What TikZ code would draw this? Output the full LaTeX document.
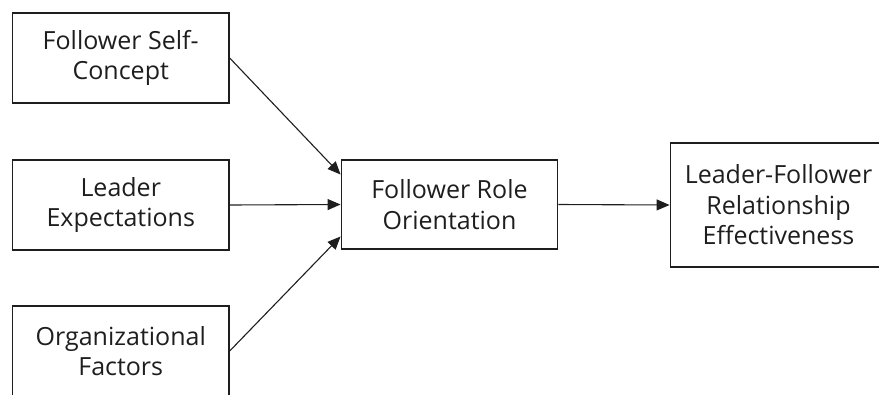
\documentclass[tikz,border=0pt]{standalone}
\usepackage{fontspec}
\setmainfont{Open Sans}
\usetikzlibrary{arrows.meta}
\definecolor{ink}{HTML}{1E1E1E}
\tikzset{
  box/.style={draw=ink, line width=1.4pt, minimum width=216.5pt, inner sep=0pt,
    align=center, font=\fontsize{25}{30.5}\selectfont, text=ink},
  link/.style={draw=ink, line width=1.1pt, -{Triangle[length=13pt,width=11pt]}}
}
\begin{document}
\begin{tikzpicture}[x=1pt, y=-1pt]
  \useasboundingbox (0,0) rectangle (879,394);
  \begin{scope}
    \clip (0,0) rectangle (879,394);
    % antecedents
    \node[box, minimum height=90pt] (self) at (120.75,58) {Follower Self-\\Concept};
    \node[box, minimum height=90pt] (expect) at (120.75,205) {Leader\\Expectations};
    \node[box, minimum height=90pt] (org) at (120.75,351) {Organizational\\Factors};
    % mediator and outcome
    \node[box, minimum height=89pt] (role) at (449.5,204.5) {Follower Role\\Orientation};
    \node[box, minimum height=124pt] (eff) at (778.5,205) {Leader-Follower\\Relationship\\Effectiveness};
    % connectors
    \draw[link] (self.east) -- ([yshift=30pt]role.west);
    \draw[link] (expect.east) -- (role.west);
    \draw[link] (org.east) -- ([yshift=-32pt]role.west);
    \draw[link] (role.east) -- (eff.west);
  \end{scope}
\end{tikzpicture}
\end{document}
